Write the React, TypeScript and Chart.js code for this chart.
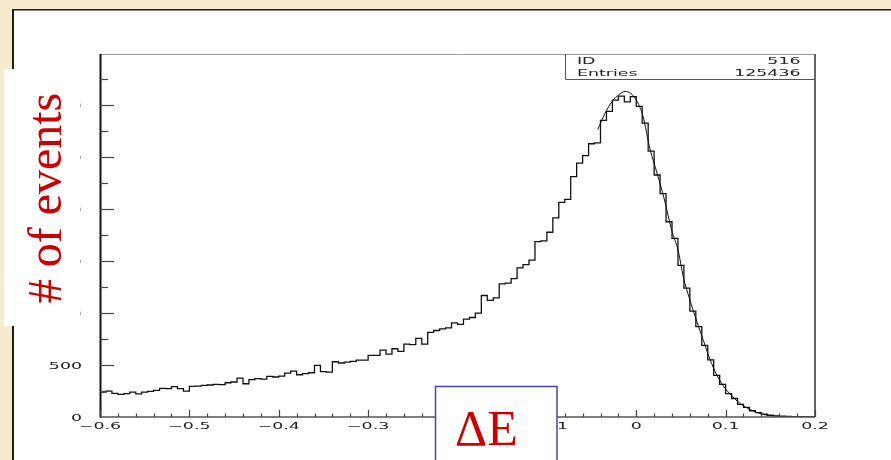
import React, { useEffect, useRef } from "react";
import { Chart, registerables } from "chart.js";

Chart.register(...registerables);

const W = 891;
const H = 460;

const xMin = -0.6;
const xMax = 0.2;
const yMax = 3495;

// histogram bin contents (120 bins from -0.6 to 0.2)
const binCounts = [
  240, 250, 228, 218, 225, 240, 222, 240, 247, 257,
  276, 273, 292, 273, 250, 295, 298, 305, 308, 314,
  311, 330, 337, 375, 320, 359, 369, 365, 391, 385,
  394, 423, 442, 407, 417, 426, 497, 436, 433, 532,
  520, 528, 535, 548, 548, 593, 593, 644, 606, 657,
  631, 702, 696, 757, 702, 814, 833, 849, 859, 907,
  891, 942, 958, 1000, 1170, 1122, 1147, 1282, 1288, 1333,
  1436, 1468, 1510, 1689, 1695, 1779, 1918, 2067, 2095, 2315,
  2445, 2516, 2631, 2640, 2855, 2942, 3050, 3090, 3035, 3085,
  2990, 2830, 2560, 2330, 2150, 1880, 1720, 1460, 1240, 1020,
  870, 690, 550, 400, 315, 225, 178, 122, 92, 60,
  42, 27, 17, 11, 7, 5, 3, 3, 2, 2,
];

// fitted curve
const fitX = [-0.043, -0.035, -0.027, -0.019, -0.0126, -0.006, 0.001, 0.0076, 0.0154, 0.0232, 0.031, 0.0396, 0.0471, 0.0526, 0.0601, 0.0676, 0.075, 0.0806, 0.0881, 0.0974, 0.1068, 0.1161, 0.1273, 0.1418, 0.1608, 0.1978];
const fitY = [2769, 2923, 3038, 3106, 3135, 3115, 3038, 2894, 2580, 2350, 2110, 1800, 1596, 1350, 1125, 925, 740, 600, 440, 300, 205, 130, 72, 26, 5, 0];

const xTickValues = [-0.6, -0.5, -0.4, -0.3, -0.2, -0.1, 0, 0.1, 0.2];
const xTickLabels = ["\u22120.6", "\u22120.5", "\u22120.4", "\u22120.3", "\u22120.2", "\u22120.1", "0", "0.1", "0.2"];
const yTickValues = [0, 500, 1000, 1500, 2000, 2500, 3000];
const yTickLabels = ["0", "500", "1000", "1500", "2000", "2500", "3000"];

const statsNames = ["ID", "Entries"];
const statsValues = ["516", "125436"];

const yAxisTitle = "# of events";
const xAxisTitle = "\u0394E";

const SX = 1.93;

function stretchedText(ctx: CanvasRenderingContext2D, text: string, x: number, y: number, align: string) {
  ctx.save();
  ctx.font = "9px 'DejaVu Sans'";
  const w = ctx.measureText(text).width * SX;
  const left = align === "center" ? x - w / 2 : align === "right" ? x - w : x;
  ctx.translate(left, y);
  ctx.scale(SX, 1);
  ctx.textAlign = "left";
  ctx.textBaseline = "alphabetic";
  ctx.fillStyle = "#222";
  ctx.fillText(text, 0, 0);
  ctx.restore();
}

const sceneryPlugin = {
  id: "scenery",
  beforeDraw(chart: any) {
    const ctx: CanvasRenderingContext2D = chart.ctx;
    ctx.save();
    ctx.fillStyle = "#f7ebcf";
    ctx.fillRect(0, 0, W, H);
    ctx.fillStyle = "#ffffff";
    ctx.fillRect(12, 9, W - 12, H - 9);
    ctx.fillStyle = "#1c1c1c";
    ctx.fillRect(12, 9, 2, H - 9);
    ctx.fillRect(12, 9, W - 12, 1.5);
    ctx.restore();
  },
  afterDatasetsDraw(chart: any) {
    const ctx: CanvasRenderingContext2D = chart.ctx;
    const a = chart.chartArea;
    const xs = chart.scales.x;
    const ys = chart.scales.y;
    ctx.save();
    // frame
    ctx.lineWidth = 1;
    ctx.strokeStyle = "#999";
    ctx.beginPath();
    ctx.moveTo(a.left, a.top + 0.5);
    ctx.lineTo(a.right, a.top + 0.5);
    ctx.stroke();
    ctx.strokeStyle = "#333";
    ctx.lineWidth = 1.5;
    ctx.beginPath();
    ctx.moveTo(a.right, a.top);
    ctx.lineTo(a.right, a.bottom);
    ctx.stroke();
    ctx.strokeStyle = "#555";
    ctx.lineWidth = 1.5;
    ctx.beginPath();
    ctx.moveTo(a.left, a.bottom);
    ctx.lineTo(a.right, a.bottom);
    ctx.stroke();
    ctx.strokeStyle = "#111";
    ctx.lineWidth = 2;
    ctx.beginPath();
    ctx.moveTo(a.left + 0.5, a.top);
    ctx.lineTo(a.left + 0.5, a.bottom + 0.5);
    ctx.stroke();

    // x ticks
    ctx.strokeStyle = "#444";
    ctx.lineWidth = 1.2;
    for (let k = 0; k <= 40; k++) {
      const v = xMin + k * 0.02;
      const px = Math.round(xs.getPixelForValue(v)) + 0.5;
      const len = k % 5 === 0 ? 7 : 3.5;
      ctx.beginPath();
      ctx.moveTo(px, a.bottom);
      ctx.lineTo(px, a.bottom - len);
      ctx.stroke();
    }
    // y ticks
    for (let k = 1; k <= 13; k++) {
      const py = Math.round(ys.getPixelForValue(k * 250)) + 0.5;
      const len = k % 2 === 0 ? 14 : 8;
      ctx.beginPath();
      ctx.moveTo(a.left, py);
      ctx.lineTo(a.left + len, py);
      ctx.stroke();
    }
    // labels
    xTickValues.forEach((v, i) => {
      stretchedText(ctx, xTickLabels[i], xs.getPixelForValue(v), a.bottom + 11.5, "center");
    });
    yTickValues.forEach((v, i) => {
      stretchedText(ctx, yTickLabels[i], 82, ys.getPixelForValue(v) + 3.5, "right");
    });

    // stats box
    ctx.strokeStyle = "#555";
    ctx.lineWidth = 1;
    ctx.beginPath();
    ctx.moveTo(565.5, a.top);
    ctx.lineTo(565.5, 79.5);
    ctx.lineTo(a.right, 79.5);
    ctx.stroke();
    stretchedText(ctx, statsNames[0], 577, 63.5, "left");
    stretchedText(ctx, statsValues[0], 800.5, 63.5, "right");
    stretchedText(ctx, statsNames[1], 577, 76, "left");
    stretchedText(ctx, statsValues[1], 800.5, 76, "right");

    // y title overlay
    ctx.fillStyle = "#ffffff";
    ctx.fillRect(4, 69, 76.5, 257);
    ctx.save();
    ctx.translate(61, 198);
    ctx.rotate(-Math.PI / 2);
    ctx.font = "48px 'Liberation Serif'";
    ctx.fillStyle = "#cc0000";
    ctx.textAlign = "center";
    ctx.textBaseline = "alphabetic";
    ctx.fillText(yAxisTitle, 0, 0);
    ctx.restore();

    // x title overlay
    ctx.fillStyle = "#ffffff";
    ctx.fillRect(435, 386.5, 122, 80);
    ctx.strokeStyle = "#4444aa";
    ctx.lineWidth = 1.5;
    ctx.strokeRect(435.5, 386.5, 121.5, 80);
    ctx.font = "50px 'Liberation Serif'";
    ctx.fillStyle = "#cc0000";
    ctx.textAlign = "left";
    ctx.textBaseline = "alphabetic";
    ctx.fillText(xAxisTitle, 455, 445);
    ctx.restore();
  },
};

export default function App() {
  const ref = useRef<HTMLCanvasElement | null>(null);
  useEffect(() => {
    if (!ref.current) return;
    const binWidth = (xMax - xMin) / binCounts.length;
    const histPoints = binCounts.map((c, i) => ({ x: xMin + i * binWidth, y: c }));
    histPoints.push({ x: xMax, y: binCounts[binCounts.length - 1] });
    const fitPoints = fitX.map((x, i) => ({ x, y: fitY[i] }));
    const chart = new Chart(ref.current, {
      type: "line",
      data: {
        datasets: [
          {
            data: histPoints,
            stepped: true,
            borderColor: "#111",
            borderWidth: 1.3,
            pointRadius: 0,
            fill: false,
          },
          {
            data: fitPoints,
            borderColor: "#111",
            borderWidth: 1,
            pointRadius: 0,
            cubicInterpolationMode: "monotone",
            fill: false,
          },
        ],
      } as any,
      options: {
        animation: false,
        responsive: false,
        events: [],
        layout: { padding: { left: 100, top: 54, right: 76, bottom: 43 } },
        scales: {
          x: { type: "linear", min: xMin, max: xMax, display: false },
          y: { type: "linear", min: 0, max: yMax, display: false },
        },
        plugins: { legend: { display: false }, tooltip: { enabled: false } },
      } as any,
      plugins: [sceneryPlugin as any],
    });
    return () => chart.destroy();
  }, []);
  return (
    <div style={{ position: "fixed", left: 0, top: 0, width: W, height: H }}>
      <canvas ref={ref} width={W} height={H} style={{ display: "block" }} />
    </div>
  );
}
